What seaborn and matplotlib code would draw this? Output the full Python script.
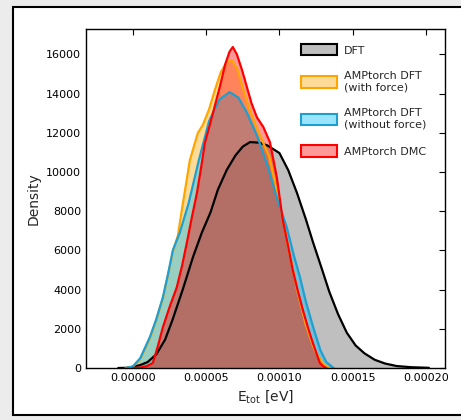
import numpy as np
import pandas as pd
import matplotlib
matplotlib.use("Agg")
import matplotlib.pyplot as plt
from matplotlib.patches import Patch, Rectangle
import seaborn as sns

# ---- data (E_tot in eV, density) ----
dft_x = [-1.0e-5, -4e-6, 0.0, 5e-6, 1.0e-5, 1.6e-5, 2.2e-5, 2.7e-5, 3.4e-5, 4.1e-5,
         4.7e-5, 5.3e-5, 5.8e-5, 6.4e-5, 7.0e-5, 7.5e-5, 8.0e-5, 8.6e-5, 9.2e-5, 1.0e-4,
         1.06e-4, 1.12e-4, 1.18e-4, 1.23e-4, 1.29e-4, 1.34e-4, 1.40e-4, 1.46e-4, 1.52e-4,
         1.58e-4, 1.65e-4, 1.72e-4, 1.80e-4, 1.90e-4, 2.02e-4]
dft_y = [0, 10, 60, 150, 300, 700, 1450, 2450, 4000, 5660,
         6900, 7950, 9100, 10100, 10850, 11300, 11530, 11500, 11350, 10970,
         10100, 8930, 7600, 6400, 5050, 3900, 2750, 1800, 1150,
         750, 420, 230, 100, 40, 10]

force_x = [-5e-6, 0.0, 5e-6, 1.16e-5, 1.6e-5, 2.05e-5, 2.4e-5, 2.73e-5, 3.07e-5, 3.34e-5,
           3.89e-5, 4.43e-5, 4.77e-5, 5.2e-5, 5.6e-5, 6.0e-5, 6.4e-5, 6.75e-5, 7.1e-5, 7.5e-5,
           8.0e-5, 8.6e-5, 9.3e-5, 1.0e-4, 1.06e-4, 1.12e-4, 1.18e-4, 1.24e-4, 1.30e-4, 1.34e-4]
force_y = [0, 70, 450, 1500, 2450, 3550, 4750, 5950, 6750, 8060,
           10610, 11990, 12400, 13200, 14200, 15100, 15600, 15710, 15300, 14300,
           13100, 12000, 10800, 8500, 6200, 4000, 2200, 900, 200, 0]

noforce_x = [-5e-6, 0.0, 5e-6, 1.16e-5, 1.6e-5, 2.05e-5, 2.4e-5, 2.73e-5, 3.2e-5, 3.8e-5,
             4.5e-5, 5.2e-5, 5.9e-5, 6.6e-5, 7.2e-5, 7.8e-5, 8.5e-5, 9.2e-5, 9.9e-5, 1.05e-4,
             1.10e-4, 1.14e-4, 1.18e-4, 1.23e-4, 1.28e-4, 1.32e-4, 1.37e-4]
noforce_y = [0, 80, 500, 1580, 2500, 3620, 4800, 6020, 6900, 8400,
             10600, 12600, 13700, 14080, 13800, 13000, 11800, 10300, 8500, 7190,
             5700, 4640, 3400, 2090, 900, 300, 0]

dmc_x = [0.0, 5e-6, 1.0e-5, 1.36e-5, 1.7e-5, 2.05e-5, 2.5e-5, 3.0e-5, 3.35e-5, 3.68e-5,
         4.0e-5, 4.37e-5, 4.65e-5, 4.91e-5, 5.25e-5, 5.6e-5, 5.93e-5, 6.3e-5, 6.6e-5, 6.82e-5,
         7.1e-5, 7.45e-5, 7.78e-5, 8.1e-5, 8.46e-5, 8.9e-5, 9.35e-5, 9.82e-5, 1.023e-4, 1.06e-4,
         1.091e-4, 1.125e-4, 1.16e-4, 1.195e-4, 1.228e-4, 1.255e-4, 1.276e-4, 1.30e-4, 1.32e-4]
dmc_y = [0, 20, 110, 255, 1100, 2090, 3100, 4130, 5200, 6380,
         7600, 8930, 10200, 11480, 12400, 13400, 14340, 15500, 16150, 16380,
         16000, 15200, 14340, 13500, 12800, 12300, 11530, 9740, 7550, 6200,
         5000, 3950, 2960, 2050, 1280, 700, 255, 80, 0]

series_names = ["DFT", "AMPtorch DFT\n(with force)", "AMPtorch DFT\n(without force)", "AMPtorch DMC"]
series_colors = ["black", "orange", "#1f9fd0", "red"]
face_colors = ["gray", "orange", "deepskyblue", "red"]

xticks = [0.0, 0.00005, 0.00010, 0.00015, 0.00020]
xtick_labels = ["0.00000", "0.00005", "0.00010", "0.00015", "0.00020"]
yticks = [0, 2000, 4000, 6000, 8000, 10000, 12000, 14000, 16000]
ytick_labels = ["0", "2000", "4000", "6000", "8000", "10000", "12000", "14000", "16000"]

# ---- plotting ----
sns.set_style("white")
plt.rcParams["font.family"] = ["DejaVu Sans"]
plt.rcParams["mathtext.default"] = "regular"

fig = plt.figure(figsize=(4.61, 4.20), dpi=100, facecolor="#ececec")
panel = Rectangle((13 / 461, 5 / 420), 1.2, (413 - 5) / 420,
                  transform=fig.transFigure, facecolor="white",
                  edgecolor="black", lw=1.5, zorder=-10)
fig.add_artist(panel)
ax = fig.add_axes([86 / 461, 1 - 368 / 420, 359 / 461, 339 / 420], zorder=1)
ax.patch.set_alpha(0)

xs = [dft_x, force_x, noforce_x, dmc_x]
ys = [dft_y, force_y, noforce_y, dmc_y]
alphas = [0.5, 0.4, 0.4, 0.4]
handles = []
for x, y, name, ec, fc, a in zip(xs, ys, series_names, series_colors, face_colors, alphas):
    df = pd.DataFrame({"E": x, "density": y})
    ax.fill_between(df["E"], 0, df["density"], color=fc, alpha=a, lw=0)
    sns.lineplot(data=df, x="E", y="density", color=ec, lw=1.6, ax=ax, sort=False)
    handles.append(Patch(facecolor=matplotlib.colors.to_rgba(fc, a), edgecolor=ec, lw=1.5, label=name))

ax.set_xlim(-0.000032, 0.000213)
ax.set_ylim(0, 17300)
ax.set_xticks(xticks)
ax.set_xticklabels(xtick_labels)
ax.set_yticks(yticks)
ax.set_yticklabels(ytick_labels)
ax.tick_params(direction="in", top=True, right=True, labelsize=8, length=4, width=0.8, colors="black")
for s in ax.spines.values():
    s.set_color("black")
    s.set_linewidth(1.0)
ax.set_xlabel("E$_{tot}$ [eV]", fontsize=10)
ax.set_ylabel("Density", fontsize=10)

ax.legend(handles=handles, loc="upper right", bbox_to_anchor=(0.975, 0.985), frameon=False,
          fontsize=8, handlelength=3.2, handleheight=1.2, labelspacing=1.4, handletextpad=0.6)

fig.savefig("out.png", dpi=100, facecolor=fig.get_facecolor())
